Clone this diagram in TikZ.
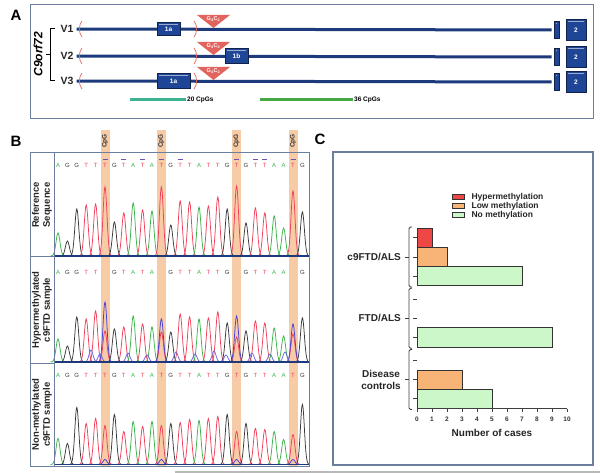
\documentclass[tikz,border=0pt]{standalone}
\usepackage{fontspec}
\setmainfont{Liberation Sans}
\usetikzlibrary{positioning}

\definecolor{navy}{HTML}{1D3A7C}
\definecolor{exonblue}{HTML}{1F4596}
\definecolor{framegray}{HTML}{6C7E9E}
\definecolor{repeatred}{HTML}{E2645E}
\definecolor{bandorange}{HTML}{F7CBA6}
\definecolor{cpgteal}{HTML}{3DB391}
\definecolor{cpggreen}{HTML}{45A845}
\definecolor{baseA}{HTML}{3CB44B}
\definecolor{baseG}{HTML}{3A3A3A}
\definecolor{baseT}{HTML}{F0405A}
\definecolor{baseC}{HTML}{4A40D8}
\definecolor{markpurple}{HTML}{7050B0}
\definecolor{hyperred}{HTML}{EF4646}
\definecolor{lowmeth}{HTML}{F8B477}
\definecolor{nometh}{HTML}{CCF7C8}

\newcommand{\fsz}[1]{\fontsize{#1}{#1}\selectfont}
% one trace peak: colour, centre, baseline, height
\newcommand{\chrompeak}[4]{%
  \pgfmathsetmacro{\pka}{#2-7.5}\pgfmathsetmacro{\pkb}{#2+7.5}%
  \draw[#1, peakline] plot[variable=\px, domain=\pka:\pkb, samples=21, smooth]
    (\px, {#3-#4*exp(-(((\px-(#2))/2.8)^2))});}

\begin{document}
\begin{tikzpicture}[x=1pt,y=-1pt]
\tikzset{
  panel/.style={font=\fsz{15}\bfseries, inner sep=0pt},
  frame/.style={draw=framegray, line width=1pt},
  variant/.style={font=\fsz{10.5}\bfseries, text=black!85, inner sep=1pt},
  transcript/.style={draw=navy, line width=3pt, shorten <=2pt, shorten >=2pt},
  exon/.style={rectangle, fill=exonblue, draw=navy!60!black, line width=0.6pt, inner sep=0pt,
    text=white, font=\fsz{6.5}\bfseries,
    path picture={\draw[white!55!exonblue, line width=0.5pt]
      ([shift={(2pt,-2pt)}]path picture bounding box.north west) --
      ([shift={(-2pt,-2pt)}]path picture bounding box.north east);}},
  smallexon/.style={exon, minimum width=5pt, minimum height=17pt},
  paren/.style={draw=repeatred, line width=0.7pt},
  repeattext/.style={font=\fsz{5.5}\bfseries, text=white, inner sep=0pt},
  cpgtext/.style={font=\fsz{6.5}\bfseries, text=black!80, inner sep=1pt},
  rowlabel/.style={rotate=90, align=center, font=\fontsize{9.5}{11}\selectfont\bfseries, text=black!85},
  seqletter/.style={font=\fsz{6}, inner sep=0pt},
  seqmark/.style={draw=markpurple, line width=1pt},
  peakline/.style={line width=0.75pt},
  baseline/.style={draw=navy, line width=1.6pt},
  casebar/.style={draw=black!80, line width=0.9pt},
  legendbox/.style={rectangle, draw=black!80, line width=0.8pt, minimum width=12pt, minimum height=5pt, inner sep=0pt},
  legendtext/.style={font=\fsz{8.5}\bfseries, text=black!85, inner sep=0pt},
  grouplabel/.style={font=\fontsize{10}{12}\selectfont\bfseries, align=center, text=black!85, inner sep=0pt},
  axisline/.style={draw=black!75, line width=0.7pt},
  ticklabel/.style={font=\fsz{6.5}\bfseries, text=black!80, inner sep=0pt},
  axistitle/.style={font=\fsz{10}\bfseries, text=black!85, inner sep=0pt}
}
\useasboundingbox (0,0) rectangle (600,473);
\fill[white] (0,0) rectangle (600,473);

% ---------------- A: transcripts
\node[panel] (labA) at (16,15) {A};
\draw[frame] (30,5) rectangle (593,119);
\node[font=\fsz{12}\bfseries\itshape, rotate=90, inner sep=0pt] (gene) at (38,54) {C9orf72};
\draw[line width=0.8pt] (55,28) -- (50.5,28) -- (50.5,80) -- (55,80) (50.5,54) -- (46,54);

\foreach \v/\y in {1/29,2/56,3/81} {
  \node[variant] (v\v) at (67,\y) {V\v};
  \node[smallexon] (xs\v) at (556.5,{\y+1}) {};
  \node[exon, minimum width=20pt, minimum height=21pt] (x2\v) at (576,{\y+1}) {2};
  \draw[transcript] (v\v.east) -- (xs\v.west);
  \draw[paren] (82,{\y-8}) .. controls (78.5,{\y-4}) and (78.5,{\y+4}) .. (82,{\y+8});
  \draw[paren] (194,{\y-8}) .. controls (197.5,{\y-4}) and (197.5,{\y+4}) .. (194,{\y+8});
  \fill[repeatred] (197,{\y-14}) -- (230,{\y-14}) -- (213.5,{\y-1}) -- cycle;
  \node[repeattext] (rep\v) at (213.5,{\y-10}) {G\textsubscript{4}C\textsubscript{2}};
}
\node[exon, minimum width=23pt, minimum height=13pt] (v1ex) at (168.5,29) {1a};
\node[exon, minimum width=23pt, minimum height=15pt] (v2ex) at (236.5,56) {1b};
\node[exon, minimum width=33pt, minimum height=15pt] (v3ex) at (173.5,81) {1a};

\fill[cpgteal] (130,98.5) rectangle (186,101.5);
\node[font=\fsz{6.5}\bfseries, anchor=west, inner sep=1pt] (cpg20) at (186,100) {20 CpGs};
\fill[cpggreen] (260,98.5) rectangle (353,101.5);
\node[font=\fsz{6.5}\bfseries, anchor=west, inner sep=1pt] (cpg36) at (353,100) {36 CpGs};

% ---------------- B: sequence traces
\node[panel] (labB) at (16,141) {B};
\foreach \cx [count=\n] in {105,161.4,236.6,293} {
  \fill[bandorange] ({\cx-4.5},130) rectangle ({\cx+4.5},466);
  \node[cpgtext, rotate=90] (cpg\n) at (\cx,141) {CpG};
}

\foreach \nt/\ha/\hb/\hc [count=\i from 0] in {A/23/23/26, G/15/16/21, G/47/45/57,
    T/51/43/41, T/52/51/46, T/69/31/39, G/34/33/50, T/43/35/33, A/53/46/43,
    T/46/38/38, A/45/35/43, T/69/30/39, G/31/30/41, T/55/48/42, T/54/45/45,
    A/49/43/44, T/50/44/46, T/59/50/48, G/47/39/50, T/70/25/33, G/33/31/41,
    T/48/41/36, T/43/39/35, A/40/34/33, A/28/26/25, T/65/28/30, G/44/44/60} {
  \pgfmathsetmacro{\xa}{58+9.4*\i}
  \chrompeak{base\nt}{\xa}{256}{\ha}
  \chrompeak{base\nt}{\xa}{362}{\hb}
  \chrompeak{base\nt}{\xa}{464.5}{\hc}
  \node[seqletter, text=base\nt] (r1s\i) at (\xa,165) {\nt};
  \node[seqletter, text=base\nt] (r3s\i) at (\xa,375) {\nt};
  \ifnum\i=5 \else\ifnum\i=11 \else\ifnum\i=19 \else\ifnum\i=25 \else
    \node[seqletter, text=base\nt] (r2s\i) at (\xa,272) {\nt};
  \fi\fi\fi\fi
}
% methylated C signal
\foreach \k/\hm in {5/60,11/43,19/46,25/38} {
  \pgfmathsetmacro{\xa}{58+9.4*\k}
  \chrompeak{baseC}{\xa}{362}{\hm}
  \chrompeak{baseC}{\xa}{464.5}{5}
}
\foreach \xb/\hm in {91/12,100/8,128/9,147/7,176/10,195/8,214/11,226/7,252/9,270/8,285/10} {
  \chrompeak{baseC!80}{\xb}{362}{\hm}
}
\foreach \k in {5,7,9,11,13,19,21,22,25}
  \draw[seqmark] ({58+9.4*\k-2.5},159.5) -- ++(5,0);

\foreach \yb in {256,362,464.5}
  \draw[baseline] (54,\yb) -- (309,\yb);
\draw[frame] (30,153) rectangle (309,466);
\draw[frame] (54,153) -- (54,466) (30,257) -- (54,257) (30,363) -- (54,363);
\node[rowlabel] (row1) at (42,205) {Reference\\Sequence};
\node[rowlabel] (row2) at (42,310) {Hypermethylated\\c9FTD sample};
\node[rowlabel] (row3) at (42,414.5) {Non-methylated\\c9FTD sample};

% ---------------- C: bar chart
\node[panel] (labC) at (320,139) {C};
\draw[frame, line width=1.2pt] (333,152) rectangle (593,465);
\draw[gray!55, line width=1.2pt] (175,472) -- (600,472);

\foreach \c/\yk/\txt [count=\n] in {hyperred/197/Hypermethylation, lowmeth/206/Low methylation, nometh/215/No methylation} {
  \node[legendbox, fill=\c] (key\n) at (458,\yk) {};
  \node[legendtext, right=7pt of key\n] (keytxt\n) {\txt};
}

\foreach \c/\yb/\v in {hyperred/228/1, lowmeth/247.3/2, nometh/266.6/7,
    nometh/327.8/9, lowmeth/370/3, nometh/389.3/5}
  \draw[casebar, fill=\c] (417,\yb) rectangle ++({15*\v},19.3);

\foreach \g/\txt [count=\n] in {228/{c9FTD/ALS}, 289.2/{FTD/ALS}, 350.5/{Disease\\controls}} {
  \foreach \s in {0,1,2}
    \draw[axisline] (413,{\g+9.65+19.3*\s}) -- (417,{\g+9.65+19.3*\s});
  \draw[axisline, line width=0.9pt, rounded corners=1.5pt] (412,{\g-1}) -- (409,{\g-1}) -- (409,{\g+59}) -- (412,{\g+59});
  \draw[axisline, line width=0.9pt] (409,{\g+29}) -- (405,{\g+29});
  \node[grouplabel, anchor=east] (grp\n) at (401,{\g+29}) {\txt};
}

\draw[axisline] (417,408.6) -- (567,408.6);
\foreach \k in {0,...,10} {
  \draw[axisline] ({417+15*\k},408.6) -- ++(0,3);
  \node[ticklabel] (tk\k) at ({417+15*\k},419.5) {\k};
}
\node[axistitle] (xtitle) at (492,433) {Number of cases};
\end{tikzpicture}
\end{document}
